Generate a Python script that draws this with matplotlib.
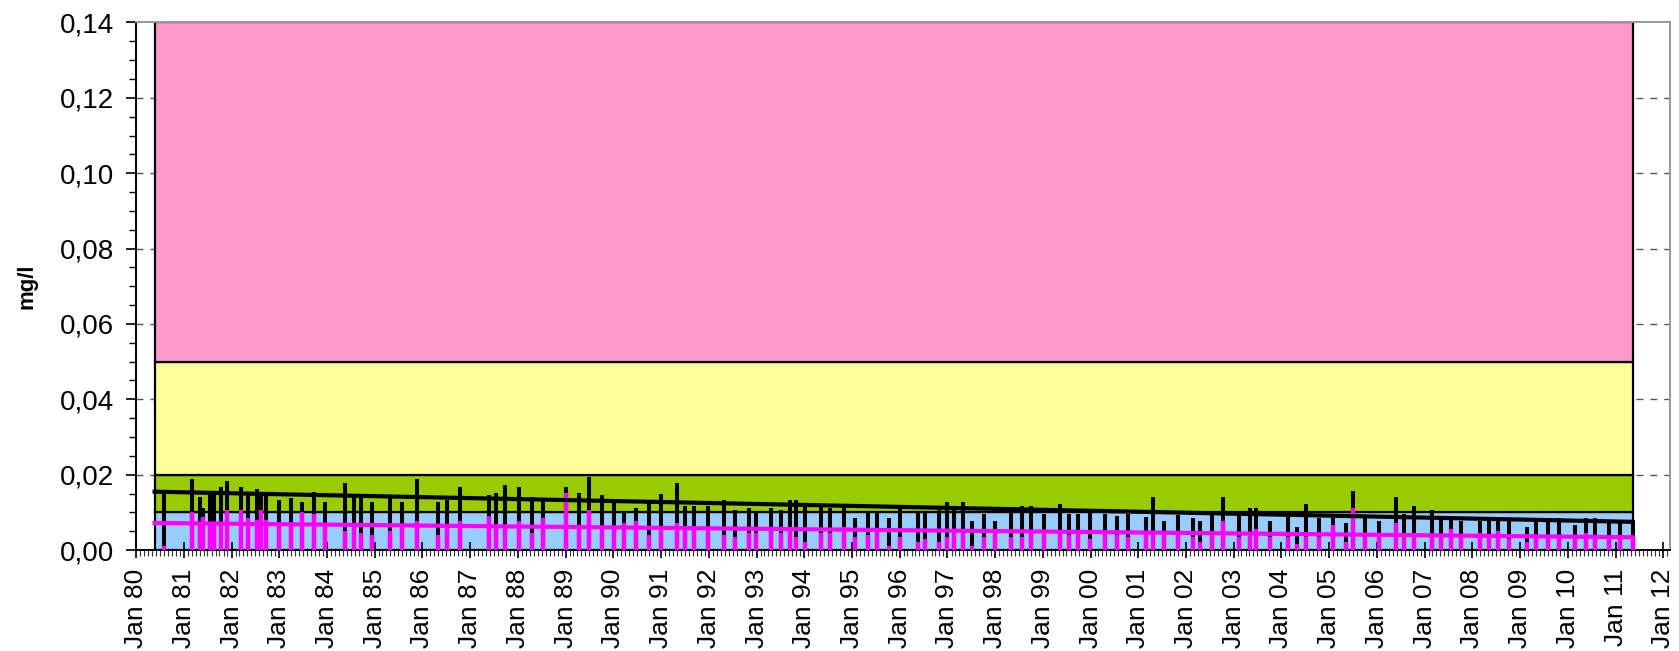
import datetime as dt

import matplotlib
matplotlib.use("Agg")
from matplotlib import pyplot as plt
import matplotlib.dates as mdates
from matplotlib.patches import Rectangle
from matplotlib.ticker import FuncFormatter, MultipleLocator

plt.rcParams['font.family'] = ['Liberation Sans', 'DejaVu Sans']

# sample dates (decimal years) and concentrations in mg/l
sample_years = [
    1980.589, 1981.161, 1981.349, 1981.405, 1981.545, 1981.635, 1981.775, 1981.914,
    1982.193, 1982.347, 1982.535, 1982.626, 1982.730, 1983.002, 1983.246, 1983.477,
    1983.720, 1983.958, 1984.369, 1984.564, 1984.718, 1984.941, 1985.324, 1985.561,
    1985.889, 1986.321, 1986.510, 1986.789, 1987.402, 1987.542, 1987.730, 1988.023,
    1988.302, 1988.532, 1989.013, 1989.285, 1989.480, 1989.766, 1990.004, 1990.234,
    1990.478, 1990.757, 1990.994, 1991.328, 1991.510, 1991.698, 1991.991, 1992.319,
    1992.556, 1992.842, 1992.981, 1993.309, 1993.504, 1993.692, 1993.832, 1994.020,
    1994.355, 1994.543, 1994.829, 1995.059, 1995.345, 1995.533, 1995.770, 1996.015,
    1996.384, 1996.531, 1996.817, 1996.998, 1997.144, 1997.333, 1997.521, 1997.758,
    1997.995, 1998.323, 1998.567, 1998.755, 1999.034, 1999.369, 1999.557, 1999.746,
    1999.983, 2000.310, 2000.547, 2000.784, 2001.154, 2001.300, 2001.531, 2001.823,
    2002.151, 2002.290, 2002.535, 2002.765, 2003.100, 2003.337, 2003.476, 2003.755,
    2004.146, 2004.327, 2004.515, 2004.787, 2005.080, 2005.359, 2005.498, 2005.742,
    2006.035, 2006.405, 2006.559, 2006.782, 2007.158, 2007.353, 2007.542, 2007.772,
    2008.156, 2008.344, 2008.532, 2008.770, 2009.153, 2009.341, 2009.578, 2009.816,
    2010.142, 2010.374, 2010.569, 2010.854, 2011.092, 2011.357,
]
black_vals = [
    0.0152, 0.0189, 0.0140, 0.0112, 0.0146, 0.0149, 0.0167, 0.0183,
    0.0167, 0.0147, 0.0161, 0.0154, 0.0143, 0.0133, 0.0138, 0.0128,
    0.0154, 0.0128, 0.0178, 0.0150, 0.0140, 0.0128, 0.0137, 0.0128,
    0.0189, 0.0128, 0.0134, 0.0167, 0.0145, 0.0151, 0.0172, 0.0167,
    0.0140, 0.0129, 0.0167, 0.0151, 0.0195, 0.0145, 0.0134, 0.0105,
    0.0112, 0.0133, 0.0150, 0.0178, 0.0118, 0.0118, 0.0118, 0.0133,
    0.0106, 0.0112, 0.0100, 0.0112, 0.0106, 0.0133, 0.0133, 0.0118,
    0.0118, 0.0112, 0.0118, 0.0085, 0.0100, 0.0100, 0.0085, 0.0112,
    0.0100, 0.0100, 0.0106, 0.0128, 0.0106, 0.0128, 0.0078, 0.0097,
    0.0078, 0.0106, 0.0118, 0.0118, 0.0097, 0.0122, 0.0097, 0.0097,
    0.0106, 0.0097, 0.0090, 0.0097, 0.0088, 0.0140, 0.0078, 0.0094,
    0.0085, 0.0078, 0.0100, 0.0140, 0.0100, 0.0112, 0.0112, 0.0078,
    0.0100, 0.0060, 0.0122, 0.0085, 0.0085, 0.0071, 0.0156, 0.0085,
    0.0078, 0.0140, 0.0096, 0.0118, 0.0106, 0.0085, 0.0089, 0.0078,
    0.0078, 0.0078, 0.0085, 0.0078, 0.0060, 0.0085, 0.0085, 0.0085,
    0.0067, 0.0085, 0.0085, 0.0078, 0.0071, 0.0076,
]
magenta_vals = [
    0.0012, 0.0101, 0.0074, 0.0087, 0.0071, 0.0071, 0.0071, 0.0106,
    0.0106, 0.0085, 0.0079, 0.0106, 0.0079, 0.0071, 0.0071, 0.0101,
    0.0096, 0.0071, 0.0051, 0.0071, 0.0046, 0.0040, 0.0051, 0.0067,
    0.0078, 0.0040, 0.0060, 0.0078, 0.0091, 0.0067, 0.0067, 0.0078,
    0.0045, 0.0085, 0.0152, 0.0067, 0.0106, 0.0063, 0.0063, 0.0071,
    0.0078, 0.0040, 0.0060, 0.0071, 0.0054, 0.0054, 0.0058, 0.0040,
    0.0034, 0.0046, 0.0046, 0.0054, 0.0046, 0.0054, 0.0034, 0.0022,
    0.0046, 0.0046, 0.0060, 0.0034, 0.0040, 0.0054, 0.0012, 0.0034,
    0.0022, 0.0029, 0.0022, 0.0034, 0.0054, 0.0054, 0.0012, 0.0034,
    0.0054, 0.0034, 0.0034, 0.0046, 0.0054, 0.0054, 0.0040, 0.0046,
    0.0029, 0.0046, 0.0040, 0.0034, 0.0049, 0.0049, 0.0049, 0.0049,
    0.0036, 0.0022, 0.0049, 0.0078, 0.0036, 0.0049, 0.0055, 0.0036,
    0.0036, 0.0016, 0.0036, 0.0036, 0.0067, 0.0022, 0.0112, 0.0036,
    0.0036, 0.0071, 0.0036, 0.0045, 0.0036, 0.0036, 0.0056, 0.0036,
    0.0045, 0.0036, 0.0051, 0.0029, 0.0022, 0.0036, 0.0036, 0.0036,
    0.0036, 0.0045, 0.0036, 0.0036, 0.0040, 0.0036,
]

# trend lines (start / end)
trend_years = [1980.39, 2011.357]
trend_black = [0.0155, 0.0075]
trend_magenta = [0.0072, 0.0034]

# classification bands
band_years = [1980.40, 2011.357]
band_limits = [0.0, 0.01, 0.02, 0.05, 0.14]
band_colors = ['#99CCFF', '#99CC00', '#FFFF99', '#FF99CC']


def to_date(y):
    yr = int(y)
    return dt.datetime(yr, 1, 1) + dt.timedelta(days=(y - yr) * 365.25)


dates = [to_date(y) for y in sample_years]
tdates = [to_date(y) for y in trend_years]
b0, b1 = [mdates.date2num(to_date(y)) for y in band_years]

fig = plt.figure(figsize=(16.79, 6.51), dpi=100)
ax = fig.add_axes([0.081, 0.155, 0.9136, 0.8105])

# dashed grid behind the bands
for yv in [0.02, 0.04, 0.06, 0.08, 0.10, 0.12]:
    ax.axhline(yv, color='#555555', lw=1, linestyle=(0, (5, 5)), zorder=0.5)

for lo, hi, c in zip(band_limits[:-1], band_limits[1:], band_colors):
    ax.add_patch(Rectangle((b0, lo), b1 - b0, hi - lo, facecolor=c,
                           edgecolor='black', lw=1.6, zorder=1))

ax.vlines(dates, 0, black_vals, color='black', lw=2.9, zorder=3)
ax.vlines(dates, 0, magenta_vals, color='#FF00FF', lw=3.2, zorder=4)
ax.plot(tdates, trend_black, color='black', lw=3, zorder=5)
ax.plot(tdates, trend_magenta, color='#FF00FF', lw=3, zorder=6)

ax.set_xlim(dt.datetime(1980, 1, 1), to_date(2012.14))
ax.set_ylim(0, 0.14)

ax.yaxis.set_major_locator(MultipleLocator(0.02))
ax.yaxis.set_minor_locator(MultipleLocator(0.005))
ax.yaxis.set_major_formatter(FuncFormatter(lambda v, p: ('%.2f' % v).replace('.', ',')))
ax.xaxis.set_major_locator(mdates.YearLocator())
ax.xaxis.set_minor_locator(mdates.MonthLocator())
ax.xaxis.set_major_formatter(mdates.DateFormatter('%b %y'))

ax.tick_params(axis='y', which='major', direction='out', length=7, width=1.2,
               labelsize=20, pad=9)
ax.tick_params(axis='y', which='minor', direction='out', length=5, width=1.0)
ax.tick_params(axis='x', which='major', direction='inout', length=11, width=1.2,
               labelsize=19, pad=8, labelrotation=90)
ax.tick_params(axis='x', which='minor', direction='out', length=4.5, width=0.8,
               color='#333333')

ax.set_ylabel('mg/l', fontsize=16, fontweight='bold', labelpad=16)

ax.spines['left'].set_color('black')
ax.spines['bottom'].set_color('black')
ax.spines['left'].set_linewidth(1.4)
ax.spines['bottom'].set_linewidth(1.4)
ax.spines['top'].set_color('#999999')
ax.spines['right'].set_color('#999999')
ax.spines['top'].set_linewidth(1.4)
ax.spines['right'].set_linewidth(1.4)

fig.savefig('out.png', dpi=100)
